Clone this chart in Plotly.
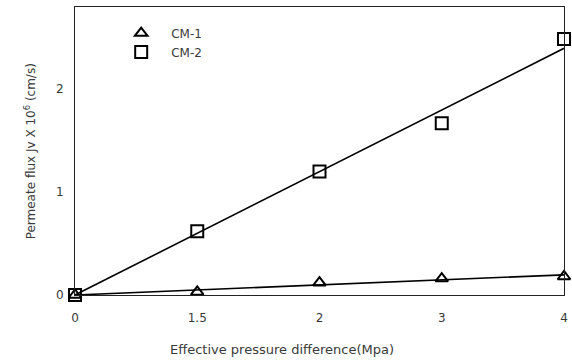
import numpy as np
import plotly.graph_objects as go

# Effective pressure difference (MPa), plotted at evenly spaced positions
pressure_labels = ["0", "1.5", "2", "3", "4"]
cm1_flux = [0.0, 0.03, 0.12, 0.16, 0.18]
cm2_flux = [0.0, 0.62, 1.20, 1.67, 2.49]
y_ticks = [0, 1, 2]

pos = np.arange(len(pressure_labels), dtype=float)


def origin_fit(x, y):
    """Least-squares line through the origin."""
    y = np.asarray(y, dtype=float)
    slope = float(np.dot(x, y) / np.dot(x, x))
    return slope * x


font_family = "DejaVu Sans, Verdana, sans-serif"
txt_color = "#3a3a3a"

fig = go.Figure()

# trend lines
for series in (cm1_flux, cm2_flux):
    fig.add_trace(go.Scatter(
        x=pos, y=origin_fit(pos, series), mode="lines",
        line=dict(color="black", width=1.6),
        showlegend=False, hoverinfo="skip", cliponaxis=False,
    ))

fig.add_trace(go.Scatter(
    x=pos, y=cm1_flux, mode="markers", name="CM-1",
    marker=dict(symbol="triangle-up-open", size=11, color="black",
                line=dict(width=2)),
    cliponaxis=False,
))
fig.add_trace(go.Scatter(
    x=pos, y=cm2_flux, mode="markers", name="CM-2",
    marker=dict(symbol="square-open", size=12, color="black",
                line=dict(width=2)),
    cliponaxis=False,
))

fig.update_layout(
    width=572, height=361,
    margin=dict(l=75, r=4, t=7, b=66),
    paper_bgcolor="white", plot_bgcolor="white",
    font=dict(family=font_family, size=12, color=txt_color),
    showlegend=True,
    legend=dict(x=0.074, y=0.96, xanchor="left", yanchor="top",
                bgcolor="rgba(0,0,0,0)", borderwidth=0,
                font=dict(size=12, color=txt_color),
                itemwidth=50, tracegroupgap=0),
    xaxis=dict(
        range=[0, 4], tickmode="array", tickvals=pos,
        ticktext=pressure_labels, showgrid=False, zeroline=False,
        showline=True, linecolor="#222222", linewidth=1, mirror=True,
        ticks="", ticklen=0, ticklabelstandoff=12,
    ),
    yaxis=dict(
        range=[0, 2.8], tickmode="array", tickvals=y_ticks,
        showgrid=False, zeroline=False,
        showline=True, linecolor="#222222", linewidth=1, mirror=True,
        ticks="", ticklen=0, ticklabelstandoff=8,
    ),
    annotations=[
        dict(text="Effective pressure difference(Mpa)", xref="paper",
             yref="paper", x=(284 - 75) / 493, y=-(349 - 295) / 288,
             xanchor="center", yanchor="middle", showarrow=False,
             font=dict(size=13, color=txt_color)),
        dict(text="Permeate flux Jv X 10<sup>6</sup> (cm/s)", xref="paper",
             yref="paper", x=-(75 - 30) / 493, y=0.5, textangle=-90,
             xanchor="center", yanchor="middle", showarrow=False,
             font=dict(size=12, color=txt_color)),
    ],
)

fig.write_html("out.html")
